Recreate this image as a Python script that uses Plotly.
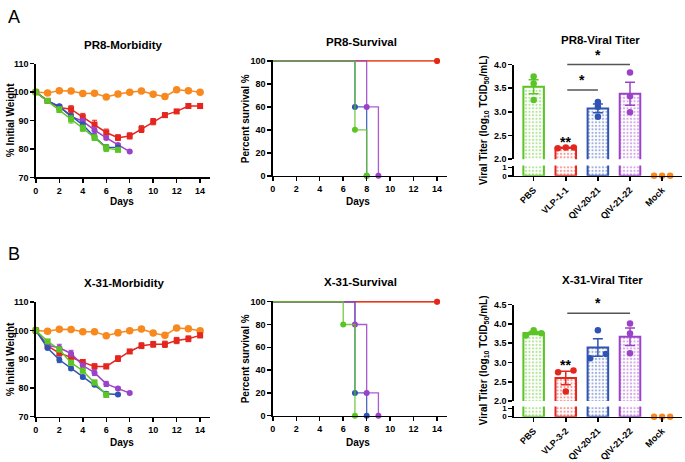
import plotly.graph_objects as go
import numpy as np

W, H = 685, 462
FONT = "Liberation Sans, Arial, Helvetica, sans-serif"

# ---------------- data ----------------
groups = ["PBS", "VLP", "QIV-20-21", "QIV-21-22", "Mock"]
colors = {"PBS": "#5BC526", "VLP": "#E4261F", "QIV-20-21": "#2F53B3",
          "QIV-21-22": "#9B42C8", "Mock": "#F7891E"}
symbols = {"PBS": "square", "VLP": "square", "QIV-20-21": "circle",
           "QIV-21-22": "circle", "Mock": "circle"}
days = list(range(15))

# Morbidity (% initial weight), PR8
pr8_mock = [100, 99.7, 100.5, 100.4, 99.5, 99.6, 98.3, 99.3, 99.9, 100.4, 99.2, 98.4, 100.8, 100.5, 99.9]
pr8_mock_sem = [0, 0.4, 0.5, 0.5, 0.6, 0.6, 0.5, 0.9, 0.6, 0.4, 0.6, 0.8, 0.5, 0.5, 0.4]
pr8_vlp = [100, 96.9, 94.6, 94.0, 91.2, 88.6, 85.8, 84.0, 84.6, 87.0, 89.6, 91.9, 93.2, 95.1, 95.1]
pr8_vlp_sem = [0, 0.4, 0.8, 1.2, 1.3, 1.5, 1.2, 1.0, 1.1, 1.2, 1.1, 0.8, 0.6, 0.8, 0.9]
pr8_q2021 = [100, 96.9, 94.9, 91.6, 88.5, 84.2, 80.6, 80.5]
pr8_q2021_sem = [0, 0.4, 0.6, 0.8, 0.9, 1.0, 0.9, 0.4]
pr8_q2122 = [100, 96.9, 95.0, 91.4, 89.8, 86.6, 83.9, 81.4, 79.1]
pr8_q2122_sem = [0, 0.4, 0.6, 0.8, 1.0, 1.1, 0.6, 0.5, 0.4]
pr8_pbs = [100, 96.9, 93.8, 90.4, 87.3, 84.0, 80.3, 79.7]
pr8_pbs_sem = [0, 0.6, 1.0, 1.3, 1.1, 1.0, 1.2, 0.5]

# Morbidity, X-31
x31_mock = [100, 99.7, 100.4, 100.3, 99.6, 99.6, 98.2, 99.2, 99.9, 100.5, 99.1, 98.3, 100.9, 100.6, 99.9]
x31_mock_sem = [0, 0.4, 0.5, 0.5, 0.6, 0.7, 0.5, 1.0, 0.6, 0.4, 0.6, 0.8, 0.5, 0.5, 0.4]
x31_vlp = [100, 94.6, 92.1, 90.7, 89.0, 87.5, 87.5, 90.2, 92.7, 94.7, 95.2, 95.2, 96.5, 97.1, 98.3]
x31_vlp_sem = [0, 0.6, 0.8, 0.9, 0.9, 0.9, 0.8, 1.0, 0.7, 1.0, 1.0, 1.1, 1.1, 1.0, 0.8]
x31_q2021 = [100, 93.9, 89.8, 86.8, 83.8, 81.1, 78.0, 77.7]
x31_q2021_sem = [0, 0.5, 1.0, 0.6, 0.6, 0.5, 0.6, 0.4]
x31_q2122 = [100, 94.8, 94.0, 92.0, 87.8, 85.3, 81.4, 79.8, 78.2]
x31_q2122_sem = [0, 0.5, 1.2, 1.1, 0.8, 1.0, 0.9, 0.5, 0.4]
x31_pbs = [100, 96.2, 93.4, 88.8, 86.0, 81.9, 77.6]
x31_pbs_sem = [0, 0.5, 0.8, 0.8, 0.8, 0.8, 0.9]

# Survival (% survival) step data: times and percentages
pr8_surv_t = {"Mock": [0, 14], "VLP": [0, 14], "QIV-20-21": [0, 7, 8],
              "QIV-21-22": [0, 8, 9], "PBS": [0, 7, 8]}
pr8_surv_s = {"Mock": [100, 100], "VLP": [100, 100], "QIV-20-21": [100, 60, 0],
              "QIV-21-22": [100, 60, 0], "PBS": [100, 40, 0]}
x31_surv_t = {"Mock": [0, 14], "VLP": [0, 14], "QIV-20-21": [0, 7, 8],
              "QIV-21-22": [0, 7, 8, 9], "PBS": [0, 6, 7]}
x31_surv_s = {"Mock": [100, 100], "VLP": [100, 100], "QIV-20-21": [100, 20, 0],
              "QIV-21-22": [100, 80, 20, 0], "PBS": [100, 80, 0]}

# Viral titer (log10 TCID50/mL), individual mice
pr8_titer_labels = ["PBS", "VLP-1-1", "QIV-20-21", "QIV-21-22", "Mock"]
pr8_titer_pts = {"PBS": [3.75, 3.60, 3.25], "VLP": [2.23, 2.25, 2.25],
                 "QIV-20-21": [3.21, 3.11, 2.90], "QIV-21-22": [3.83, 3.33, 2.99],
                 "Mock": [0, 0, 0]}
x31_titer_labels = ["PBS", "VLP-3-2", "QIV-20-21", "QIV-21-22", "Mock"]
x31_titer_pts = {"PBS": [3.70, 3.84, 3.76], "VLP": [2.75, 2.25, 2.79],
                 "QIV-20-21": [3.11, 3.84, 3.22], "QIV-21-22": [4.01, 3.75, 3.24],
                 "Mock": [0, 0, 0]}
# horizontal jitter of dots inside bars
pr8_jitter = {"PBS": [0, 0, 0], "VLP": [-0.25, 0, 0.25], "QIV-20-21": [0, 0, 0],
              "QIV-21-22": [0, 0, 0], "Mock": [-0.25, 0, 0.25]}
x31_jitter = {"PBS": [-0.24, 0, 0.24], "VLP": [-0.24, 0, 0.24], "QIV-20-21": [-0.24, 0, 0.25],
              "QIV-21-22": [0, 0, 0], "Mock": [-0.25, 0, 0.25]}
# significance: (group i, group j, line level, label)
pr8_sig = [(1, 2, 3.46, "*"), (1, 3, 4.0, "*")]
pr8_vlp_star = 2.43
x31_sig = [(1, 3, 4.28, "*")]
x31_vlp_star = 2.99

# ---------------- helpers ----------------
def px(x):
    return x / W

def py(y):
    return 1 - y / H

fig = go.Figure()

def ax_style(**kw):
    d = dict(showline=True, linecolor="black", linewidth=1.5, ticks="outside",
             ticklen=4, tickwidth=1.5, tickcolor="black", showgrid=False,
             zeroline=False, mirror=False,
             tickfont=dict(family=FONT, size=9, color="black", weight="bold"))
    d.update(kw)
    return d

def morbidity(series, xa, ya):
    for g, vals, sem in series:
        fig.add_trace(go.Scatter(
            x=days[:len(vals)], y=vals, xaxis=xa, yaxis=ya, mode="lines+markers",
            line=dict(color=colors[g], width=1.5),
            marker=dict(color=colors[g], symbol=symbols[g],
                        size=7.5 if g == "Mock" else 6),
            error_y=dict(type="data", array=sem, color=colors[g], thickness=1, width=2.5),
            cliponaxis=False, showlegend=False))

def survival(ts, ss, xa, ya):
    for g in ["Mock", "VLP", "QIV-20-21", "QIV-21-22", "PBS"]:
        t, s = ts[g], ss[g]
        fig.add_trace(go.Scatter(x=t, y=s, xaxis=xa, yaxis=ya, mode="lines",
                                 line=dict(color=colors[g], width=1.3, shape="hv"),
                                 opacity=0.85, showlegend=False))
        fig.add_trace(go.Scatter(x=t[1:], y=s[1:], xaxis=xa, yaxis=ya, mode="markers",
                                 marker=dict(color=colors[g], size=6, symbol="circle"),
                                 cliponaxis=False, showlegend=False))

def titer(pts, jit, xu, yu, xl, yl):
    for i, g in enumerate(groups):
        v = np.array(pts[g], dtype=float)
        mean = v.mean()
        sem = v.std(ddof=1) / np.sqrt(len(v))
        if mean > 0:
            for xa, ya, err in [(xu, yu, True), (xl, yl, False)]:
                fig.add_trace(go.Bar(
                    x=[i], y=[mean], xaxis=xa, yaxis=ya, width=0.64,
                    marker=dict(color="rgba(255,255,255,1)",
                                line=dict(color=colors[g], width=2),
                                pattern=dict(shape=".", fgcolor=colors[g], bgcolor="white",
                                             size=3.5, solidity=0.3, fgopacity=0.45)),
                    error_y=dict(type="data", array=[sem], color=colors[g],
                                 thickness=1.5, width=5, visible=err),
                    showlegend=False))
        xs = [i + d for d in jit[g]]
        if mean > 0:
            fig.add_trace(go.Scatter(x=xs, y=list(v), xaxis=xu, yaxis=yu, mode="markers",
                                     marker=dict(color=colors[g], size=6.5),
                                     cliponaxis=False, showlegend=False))
        else:
            fig.add_trace(go.Scatter(x=xs, y=list(v), xaxis=xl, yaxis=yl, mode="markers",
                                     marker=dict(color=colors[g], size=6.5),
                                     cliponaxis=False, showlegend=False))

# ---------------- traces ----------------
morbidity([("Mock", pr8_mock, pr8_mock_sem), ("VLP", pr8_vlp, pr8_vlp_sem),
           ("QIV-21-22", pr8_q2122, pr8_q2122_sem), ("QIV-20-21", pr8_q2021, pr8_q2021_sem),
           ("PBS", pr8_pbs, pr8_pbs_sem)], "x", "y")
survival(pr8_surv_t, pr8_surv_s, "x2", "y2")
titer(pr8_titer_pts, pr8_jitter, "x3", "y3", "x4", "y4")

morbidity([("Mock", x31_mock, x31_mock_sem), ("VLP", x31_vlp, x31_vlp_sem),
           ("QIV-21-22", x31_q2122, x31_q2122_sem), ("QIV-20-21", x31_q2021, x31_q2021_sem),
           ("PBS", x31_pbs, x31_pbs_sem)], "x5", "y5")
survival(x31_surv_t, x31_surv_s, "x6", "y6")
titer(x31_titer_pts, x31_jitter, "x7", "y7", "x8", "y8")

# ---------------- axes ----------------
mx = [px(33), px(208)]
sx = [px(271), px(446)]
tx = [px(513), px(682)]
day_ticks = list(range(0, 15, 2))
cat_range = [-0.62, 4.62]
small_tick = dict(family=FONT, size=8, color="black", weight="bold")

lay = dict(
    xaxis=ax_style(domain=mx, range=[0, 14.85], tickvals=day_ticks, anchor="y"),
    yaxis=ax_style(domain=[py(176.7), py(60)], range=[70, 110],
                   tickvals=[70, 80, 90, 100, 110], anchor="x"),
    xaxis2=ax_style(domain=sx, range=[0, 14.85], tickvals=day_ticks, anchor="y2"),
    yaxis2=ax_style(domain=[py(175), py(56.1)], range=[0, 101],
                    tickvals=list(range(0, 101, 20)), anchor="x2"),
    xaxis3=dict(domain=tx, range=cat_range, visible=False, anchor="y3"),
    yaxis3=ax_style(domain=[py(158), py(61)], range=[2, 4],
                    tickvals=[2.0, 2.5, 3.0, 3.5, 4.0], tickformat=".1f", anchor="x3"),
    xaxis4=ax_style(domain=tx, range=cat_range, tickvals=list(range(5)),
                    ticktext=pr8_titer_labels, tickangle=-45, anchor="y4"),
    yaxis4=ax_style(domain=[py(175), py(164.5)], range=[0, 1.25],
                    tickvals=[0, 1], anchor="x4", tickfont=small_tick),
    xaxis5=ax_style(domain=mx, range=[0, 14.85], tickvals=day_ticks, anchor="y5"),
    yaxis5=ax_style(domain=[py(421.7), py(304)], range=[70, 110],
                    tickvals=[70, 80, 90, 100, 110], anchor="x5"),
    xaxis6=ax_style(domain=sx, range=[0, 14.85], tickvals=day_ticks, anchor="y6"),
    yaxis6=ax_style(domain=[py(420.7), py(302.8)], range=[0, 101],
                    tickvals=list(range(0, 101, 20)), anchor="x6"),
    xaxis7=dict(domain=tx, range=cat_range, visible=False, anchor="y7"),
    yaxis7=ax_style(domain=[py(405.7), py(307)], range=[2, 4.5],
                    tickvals=[2.0, 2.5, 3.0, 3.5, 4.0, 4.5], tickformat=".1f", anchor="x7"),
    xaxis8=ax_style(domain=tx, range=cat_range, tickvals=list(range(5)),
                    ticktext=x31_titer_labels, tickangle=-45, anchor="y8"),
    yaxis8=ax_style(domain=[py(421.7), py(411.2)], range=[0, 1.25],
                    tickvals=[0, 1], anchor="x8", tickfont=small_tick),
)

# ---------------- annotations ----------------
ann = []
def text(x, y, s, size=10, bold=True, angle=0, xanchor="center", yanchor="middle", xref="paper", yref="paper"):
    ann.append(dict(x=x, y=y, xref=xref, yref=yref, text=s, showarrow=False,
                    textangle=angle, xanchor=xanchor, yanchor=yanchor,
                    font=dict(family=FONT, size=size, color="black",
                              weight="bold" if bold else "normal")))

text(px(3), py(12), "A", size=18, bold=False, xanchor="left")
text(px(3), py(255), "B", size=18, bold=False, xanchor="left")

text(px(121), py(41), "PR8-Morbidity", size=11.5)
text(px(360), py(38), "PR8-Survival", size=11.5)
text(px(600), py(36), "PR8-Viral Titer", size=11.5)
text(px(122), py(285), "X-31-Morbidity", size=11.5)
text(px(359), py(284), "X-31-Survival", size=11.5)
text(px(602), py(282), "X-31-Viral Titer", size=11.5)

for yy in (201, 448):
    text(px(120), py(yy), "Days", size=10)
    text(px(357), py(yy), "Days", size=10)

text(px(7), py(118), "% Initial Weight", size=10, angle=-90)
text(px(7), py(363), "% Initial Weight", size=10, angle=-90)
text(px(243), py(116), "Percent survival %", size=10, angle=-90)
text(px(243), py(362), "Percent survival %", size=10, angle=-90)
vt = "Viral Titer (log<sub>10</sub> TCID<sub>50</sub>/mL)"
text(px(483), py(118), vt, size=10, angle=-90)
text(px(483), py(364), vt, size=10, angle=-90)

def sig(sigs, star_level, xa, ya, star_offset):
    for i, j, lvl, lab in sigs:
        ann.append(dict(x=j, y=lvl, ax=i, ay=lvl, xref=xa, yref=ya, axref=xa, ayref=ya,
                        text="", showarrow=True, arrowhead=0, arrowwidth=1.5,
                        arrowcolor="#555555", standoff=0, startstandoff=0))
        text((i + j) / 2, lvl, lab, size=14, xref=xa, yref=ya, yanchor="bottom")
    text(1, star_level - star_offset, "**", size=14, xref=xa, yref=ya)

sig(pr8_sig, pr8_vlp_star, "x3", "y3", 0.06)
sig(x31_sig, x31_vlp_star, "x7", "y7", 0.05)

fig.update_layout(
    width=W, height=H, margin=dict(l=0, r=0, t=0, b=0),
    paper_bgcolor="white", plot_bgcolor="white",
    font=dict(family=FONT, color="black"),
    barmode="overlay", showlegend=False, annotations=ann, **lay)

fig.write_html("out.html", config={"displayModeBar": False, "staticPlot": True},
               post_script="document.body.style.margin='0';document.body.style.overflow='hidden';")
